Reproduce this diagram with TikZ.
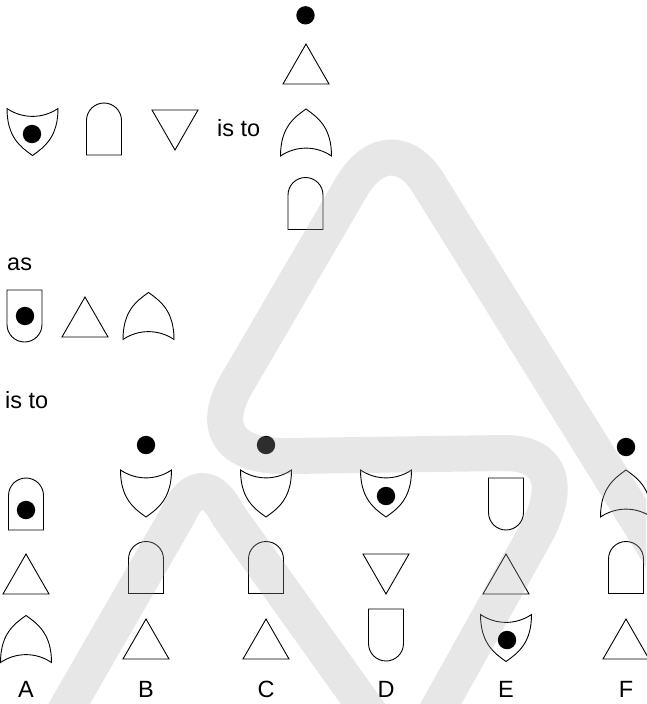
\documentclass[tikz,border=0pt]{standalone}
\usepackage{fontspec}
\setmainfont{Liberation Sans}
\begin{document}
\begin{tikzpicture}[x=1pt,y=-1pt,
  shp/.style={draw=black, line width=0.9pt, line join=miter},
  lbl/.style={font=\fontsize{23.5}{27}\selectfont, inner sep=0pt, anchor=base},
  txt/.style={font=\fontsize{23.5}{27}\selectfont, inner sep=0pt, anchor=base west},
  wm/.style={line width=36pt, draw=black!34, draw opacity=0.27, line join=round},
  pics/tri/.style={code={\draw[shp] (0,-20) -- (23,20) -- (-23,20) -- cycle;}},
  pics/arch/.style={code={\draw[shp] (-17.5,26) -- (-17.5,-8.5) arc[start angle=180,end angle=360,radius=17.5] -- (17.5,26) -- cycle;}},
  pics/shield/.style={code={\draw[shp] (-25.5,-23.5) .. controls (-10,-13) and (10,-13) .. (25.5,-23.5) .. controls (25.5,5) and (12,15) .. (0,23.5) .. controls (-12,15) and (-25.5,5) .. (-25.5,-23.5) -- cycle;}},
]
\fill[white] (0,0) rectangle (646,704);
\useasboundingbox (0,0) rectangle (646,704);

% ---- top analogy ----
\fill (305.5,15.3) circle[radius=9.2];
\pic (t1) at (306,64) {tri};
\pic (s1) at (32.5,132) {shield};
\fill (32,134) circle[radius=9.2];
\pic (a1) at (104,129) {arch};
\pic[yscale=-1] (d1) at (175,130) {tri};
\node[txt] (isto1) at (217,136) {is to};
\pic[yscale=-1] (o1) at (306,132.5) {shield};
\pic (a2) at (305.5,203.5) {arch};

\node[txt] (as) at (7,270) {as};
\pic[yscale=-1] (u1) at (24.5,316) {arch};
\fill (25,316) circle[radius=9.2];
\pic (t2) at (85,317) {tri};
\pic[yscale=-1] (o2) at (148.5,316) {shield};

\node[txt] (isto2) at (5,408) {is to};

% ---- options ----
% A
\pic (Aa) at (26,504) {arch};
\fill (26,510) circle[radius=9.2];
\pic (At) at (26,574) {tri};
\pic[yscale=-1] (Ao) at (26,639) {shield};
\node[lbl] (lA) at (26,697) {A};
% B
\fill (146,445) circle[radius=9.2];
\pic (Bs) at (146,493.5) {shield};
\pic (Ba) at (146,567.5) {arch};
\pic (Bt) at (146,639) {tri};
\node[lbl] (lB) at (146,697) {B};
% C
\fill (266,445) circle[radius=9.2];
\pic (Cs) at (266,493.5) {shield};
\pic (Ca) at (266,567.5) {arch};
\pic (Ct) at (266,639) {tri};
\node[lbl] (lC) at (266,697) {C};
% D
\pic (Ds) at (386,493.5) {shield};
\fill (386,496) circle[radius=9.2];
\pic[yscale=-1] (Dt) at (386,574) {tri};
\pic[yscale=-1] (Du) at (386,635) {arch};
\node[lbl] (lD) at (386,697) {D};
% E
\pic[yscale=-1] (Eu) at (506,504) {arch};
\pic (Et) at (506,574) {tri};
\pic (Es) at (506,638) {shield};
\fill (507,640) circle[radius=9.2];
\node[lbl] (lE) at (506,697) {E};
% F
\fill (626,447) circle[radius=9.2];
\pic[yscale=-1] (Fo) at (626,493.5) {shield};
\pic (Fa) at (626,567.5) {arch};
\pic (Ft) at (626,639) {tri};
\node[lbl] (lF) at (626,697) {F};

% ---- watermark ----
\begin{scope}
\clip (0,0) rectangle (646,704);
\draw[wm] (429,725) -- (535,535) .. controls (560,490) and (555,453) .. (505,453)
  -- (290,456) .. controls (225,458) and (210,425) .. (240,378)
  -- (352,186) .. controls (375,148) and (408,148) .. (430,186) -- (700,620);
\draw[wm] (57,725) -- (178,515) .. controls (192,483) and (212,483) .. (228,515) -- (378,725);
\end{scope}
\end{tikzpicture}
\end{document}
